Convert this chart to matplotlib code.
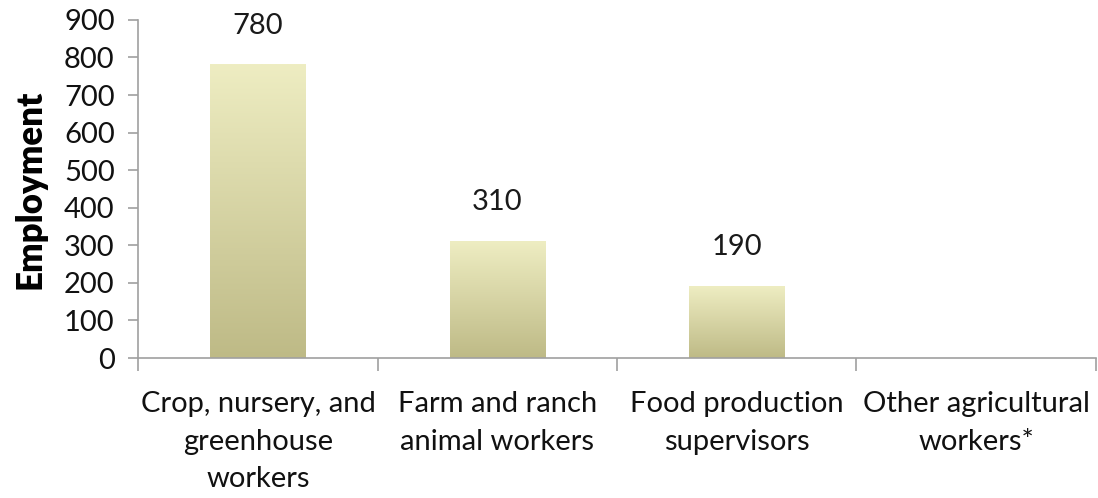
import numpy as np
import matplotlib.pyplot as plt
from matplotlib.colors import LinearSegmentedColormap

# Data
categories = ["Crop, nursery, and\ngreenhouse\nworkers",
              "Farm and ranch\nanimal workers",
              "Food production\nsupervisors",
              "Other agricultural\nworkers*"]
employment = [780, 310, 190, 0]
labels = ["780", "310", "190", ""]

plt.rcParams["font.family"] = ["Lato", "DejaVu Sans"]

fig, ax = plt.subplots(figsize=(10.98, 4.98), dpi=100)
fig.subplots_adjust(left=0.126, right=0.998, top=0.96, bottom=0.281)

x = np.arange(len(categories))
bars = ax.bar(x, employment, width=0.4, color="none", zorder=2)

# vertical gradient fill for each bar
grad = LinearSegmentedColormap.from_list("g", ["#BEBA86", "#EEEDC2"])
img = np.linspace(0, 1, 256).reshape(-1, 1)
for b, lab in zip(bars, labels):
    if b.get_height() <= 0:
        continue
    x0, y0 = b.get_x(), b.get_y()
    ax.imshow(img, cmap=grad, origin="lower", aspect="auto",
              extent=(x0, x0 + b.get_width(), y0, y0 + b.get_height()), zorder=2)
    ax.annotate(lab, (x0 + b.get_width() / 2, b.get_height()),
                xytext=(0, 19), textcoords="offset points",
                ha="center", va="bottom", fontsize=21, color="#1a1a1a")

ax.set_xlim(-0.5, len(categories) - 0.5)
ax.set_ylim(0, 900)
ax.set_yticks(range(0, 901, 100))
ax.tick_params(axis="y", labelsize=21, length=7, width=1.2, color="#A0A0A0",
               pad=10, labelcolor="#111111")

# category labels centred, ticks at the boundaries
ax.set_xticks(x)
ax.set_xticklabels(categories, fontsize=21, color="#111111", linespacing=1.55)
ax.tick_params(axis="x", length=0, pad=24)
ax.set_xticks(np.arange(len(categories) + 1) - 0.5, minor=True)
ax.tick_params(axis="x", which="minor", length=9, width=1.2, color="#A0A0A0")

ax.set_ylabel("Employment", fontsize=25, fontweight="heavy")
ax.yaxis.set_label_coords(-0.096, 0.5)

for s in ["top", "right"]:
    ax.spines[s].set_visible(False)
for s in ["left", "bottom"]:
    ax.spines[s].set_color("#A0A0A0")
    ax.spines[s].set_linewidth(1.2)

plt.savefig("out.png", dpi=100)
